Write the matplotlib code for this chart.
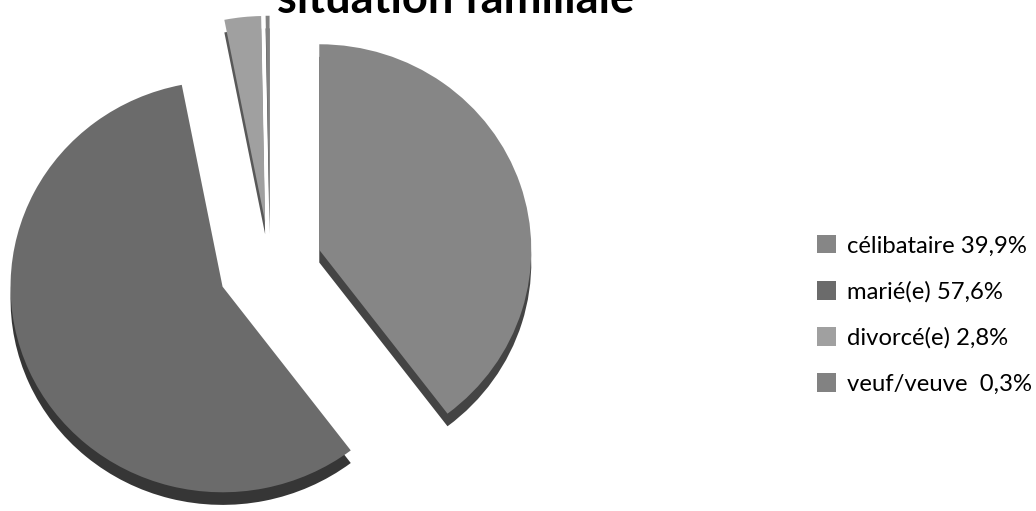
import matplotlib
matplotlib.use('Agg')
import matplotlib.pyplot as plt
from matplotlib.transforms import Affine2D

categories = ['célibataire', 'marié(e)', 'divorcé(e)', 'veuf/veuve']
values = [39.9, 57.6, 2.8, 0.3]
legend_labels = ['célibataire 39,9%', 'marié(e) 57,6%', 'divorcé(e) 2,8%', 'veuf/veuve  0,3%']
title = 'situation familiale'

face_colors = ['#868686', '#6b6b6b', '#a0a0a0', '#828282']
side_colors = ['#444444', '#363636', '#585858', '#474747']
explode = [52, 52, 46, 46]

W, H = 1036, 511
fig = plt.figure(figsize=(W / 100, H / 100), dpi=100)
ax = fig.add_axes([0, 0, 1, 1])
cx, cy = 270, H - 266
R = 212
k = 0.97
depth = 13

squash = Affine2D().translate(-cx, -cy).scale(1, k).translate(cx, cy)

side, _ = ax.pie(values, explode=explode, colors=side_colors, startangle=90,
                 counterclock=False, radius=R, center=(cx, cy - depth),
                 wedgeprops=dict(linewidth=0))
top, _ = ax.pie(values, explode=explode, colors=face_colors, startangle=90,
                counterclock=False, radius=R, center=(cx, cy),
                wedgeprops=dict(linewidth=0))
for w in side:
    w.set_transform(squash + ax.transData)
    w.set_zorder(1)
for w in top:
    w.set_transform(squash + ax.transData)
    w.set_zorder(2)

ax.set_xlim(0, W)
ax.set_ylim(0, H)
ax.set_aspect('auto')
ax.axis('off')

fig.canvas.draw()
renderer = fig.canvas.get_renderer()

t = fig.text(456 / W, (H - 13) / H, title, ha='center', va='baseline',
             fontsize=30, fontweight='bold', family='Lato', color='black')
tw = t.get_window_extent(renderer).width
t.set_fontsize(30 * 357 / tw)

tmp = fig.text(0, 0, legend_labels[0], fontsize=10, family='Lato')
lw = tmp.get_window_extent(renderer).width
tmp.remove()
lfs = 10 * 180 / lw

leg = ax.legend(top, legend_labels, loc='center left',
                bbox_to_anchor=(817 / W, (H - 315) / H), frameon=False,
                prop=dict(family='Lato', size=lfs), handlelength=0.8,
                handleheight=0.8, handletextpad=0.45, labelspacing=1.03,
                borderpad=0, borderaxespad=0)

fig.savefig('out.png', dpi=100)
